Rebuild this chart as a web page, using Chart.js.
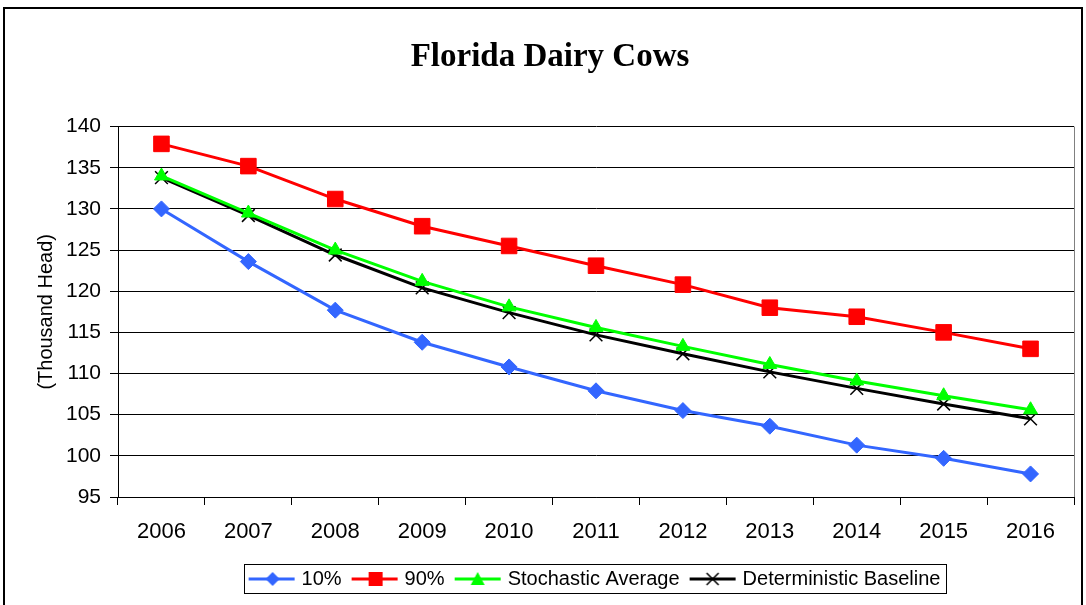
<!DOCTYPE html>
<html>
<head>
<meta charset="utf-8">
<script src="https://cdn.jsdelivr.net/npm/chart.js@4"></script>
<style>
  html, body { margin: 0; padding: 0; background: #fff; }
  #wrap { position: absolute; left: 0; top: 0; width: 1086px; height: 605px; }
</style>
</head>
<body>
<div id="wrap"><canvas id="chart" width="1086" height="605"></canvas></div>
<script>
const years = ["2006", "2007", "2008", "2009", "2010", "2011", "2012", "2013", "2014", "2015", "2016"];
const p10 = [130.0, 123.6, 117.7, 113.8, 110.8, 107.9, 105.5, 103.6, 101.3, 99.7, 97.8];
const p90 = [137.9, 135.2, 131.2, 127.9, 125.5, 123.1, 120.8, 118.0, 116.9, 115.0, 113.0];
const stochAvg = [134.0, 129.5, 125.0, 121.2, 118.1, 115.6, 113.3, 111.1, 109.1, 107.3, 105.6];
const detBase = [133.8, 129.2, 124.4, 120.4, 117.4, 114.7, 112.4, 110.2, 108.2, 106.3, 104.5];
const yTicks = [95, 100, 105, 110, 115, 120, 125, 130, 135, 140];

const blue = "#3366ff", red = "#ff0000", green = "#00ff00", black = "#000000";
const sans = "'Liberation Sans', Arial, sans-serif";

// little line+marker pictures for the legend
function legendIcon(color, style) {
  const c = document.createElement("canvas");
  c.width = 48; c.height = 18;
  const ctx = c.getContext("2d");
  ctx.strokeStyle = color; ctx.lineWidth = 3;
  ctx.beginPath(); ctx.moveTo(1, 9); ctx.lineTo(47, 9); ctx.stroke();
  ctx.fillStyle = color;
  ctx.beginPath();
  if (style === "diamond") {
    ctx.moveTo(25, 2); ctx.lineTo(32, 9); ctx.lineTo(25, 16); ctx.lineTo(18, 9); ctx.closePath(); ctx.fill();
  } else if (style === "square") {
    ctx.fillRect(18, 2, 14, 14);
  } else if (style === "triangle") {
    ctx.moveTo(24, 2); ctx.lineTo(31, 15); ctx.lineTo(17, 15); ctx.closePath(); ctx.fill();
  } else {
    ctx.lineWidth = 1.5; ctx.strokeStyle = black;
    ctx.moveTo(18, 3); ctx.lineTo(30, 15); ctx.moveTo(30, 3); ctx.lineTo(18, 15); ctx.stroke();
  }
  return c;
}
const icons = [legendIcon(blue, "diamond"), legendIcon(red, "square"), legendIcon(green, "triangle"), legendIcon(black, "cross")];

// outer frame, right edge of plot and box round the legend
const framePlugin = {
  id: "frames",
  beforeDraw(chart) {
    const ctx = chart.ctx;
    ctx.save();
    ctx.fillStyle = "#fff";
    ctx.fillRect(0, 0, chart.width, chart.height);
    ctx.strokeStyle = "#000"; ctx.lineWidth = 2;
    ctx.strokeRect(4, 8, 1078, 640);
    ctx.restore();
  },
  afterDatasetsDraw(chart) {
    const a = chart.chartArea, ctx = chart.ctx;
    ctx.save();
    ctx.strokeStyle = "#808080"; ctx.lineWidth = 1;
    ctx.beginPath();
    ctx.moveTo(Math.round(a.right) + 0.5, a.top); ctx.lineTo(Math.round(a.right) + 0.5, a.bottom);
    ctx.stroke();
    ctx.restore();
  },
  afterDraw(chart) {
    const boxes = chart.legend.legendHitBoxes;
    if (!boxes || !boxes.length) return;
    let l = Infinity, r = -Infinity, t = Infinity, b = -Infinity;
    boxes.forEach(h => { l = Math.min(l, h.left); r = Math.max(r, h.left + h.width); t = Math.min(t, h.top); b = Math.max(b, h.top + h.height); });
    const ctx = chart.ctx;
    ctx.save();
    ctx.strokeStyle = "#000"; ctx.lineWidth = 1;
    ctx.strokeRect(Math.round(l - 8) + 0.5, Math.round(t - 5) + 0.5, Math.round(r - l + 13), Math.round(b - t + 9));
    ctx.restore();
  }
};

const mk = (label, data, color, pstyle, radius) => ({
  label, data,
  borderColor: color, backgroundColor: color,
  borderWidth: 3,
  pointStyle: pstyle, pointRadius: radius, pointHoverRadius: radius,
  pointBorderColor: color, pointBackgroundColor: color, pointBorderWidth: 1,
  tension: 0, fill: false
});

new Chart(document.getElementById("chart"), {
  type: "line",
  plugins: [framePlugin],
  data: {
    labels: years,
    datasets: [
      mk("10%", p10, blue, "rectRot", 8),
      mk("90%", p90, red, "rect", 11),
      mk("Stochastic Average", stochAvg, green, "triangle", 8),
      Object.assign(mk("Deterministic Baseline", detBase, black, "crossRot", 9), { pointBorderWidth: 1.5 })
    ]
  },
  options: {
    responsive: false,
    animation: false,
    layout: { padding: { left: 25, right: 11, top: 0, bottom: 6 } },
    plugins: {
      tooltip: { enabled: false },
      title: {
        display: true,
        text: "Florida Dairy Cows",
        color: "#000",
        font: { family: "'Liberation Serif', 'Times New Roman', serif", size: 33, weight: "bold" },
        padding: { top: 38, bottom: 49 }
      },
      legend: {
        position: "bottom",
        fullSize: false,
        labels: {
          color: "#000",
          font: { family: sans, size: 20 },
          usePointStyle: true,
          pointStyleWidth: 40,
          padding: 13,
          generateLabels: chart => chart.data.datasets.map((ds, i) => ({
            text: ds.label, pointStyle: icons[i], datasetIndex: i,
            fillStyle: ds.borderColor, strokeStyle: ds.borderColor, lineWidth: 0, hidden: false
          }))
        }
      }
    },
    scales: {
      x: {
        offset: true,
        grid: { offset: true, drawOnChartArea: false, drawTicks: true, tickLength: 8, color: "#000" },
        border: { color: "#000", width: 1 },
        ticks: { color: "#000", padding: 14, maxRotation: 0, font: { family: sans, size: 22 } },
        afterFit: s => { s.height = 59; }
      },
      y: {
        min: 95, max: 140,
        afterBuildTicks: s => { s.ticks = yTicks.map(v => ({ value: v })); },
        grid: { color: "#000", tickLength: 8, lineWidth: 1 },
        border: { color: "#000", width: 1 },
        ticks: { color: "#000", padding: 9, font: { family: sans, size: 21 } },
        title: {
          display: true, text: "(Thousand Head)", color: "#000",
          font: { family: sans, size: 20 },
          padding: { top: 9, bottom: 0 }
        },
        afterFit: s => { s.width = 93; }
      }
    }
  }
});
</script>
</body>
</html>
